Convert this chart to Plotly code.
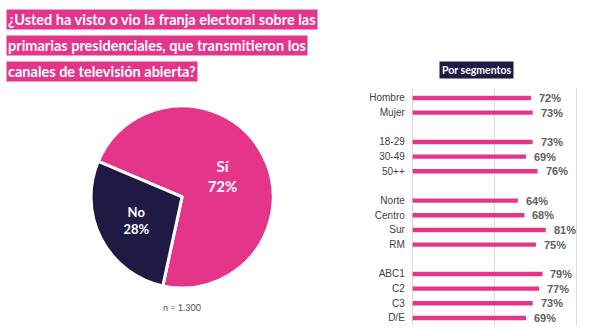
import plotly.graph_objects as go

PINK = "#E5358B"
NAVY = "#1F1A44"

title_lines = [
    "¿Usted ha visto o vio la franja electoral sobre las",
    "primarias presidenciales, que transmitieron los",
    "canales de televisión abierta?",
]

pie_labels = ["Sí", "No"]
pie_values = [72, 28]
pie_text = ["Sí<br>72%", "No<br>28%"]
sample_note = "n = 1.300"

seg_title = "Por segmentos"
groups = [
    (["Hombre", "Mujer"], [72, 73]),
    (["18-29", "30-49", "50++"], [73, 69, 76]),
    (["Norte", "Centro", "Sur", "RM"], [64, 68, 81, 75]),
    (["ABC1", "C2", "C3", "D/E"], [79, 77, 73, 69]),
]

# build positions with a blank slot between groups
cats, vals, pos = [], [], []
p = 0
for gi, (labs, vs) in enumerate(groups):
    for lab, v in zip(labs, vs):
        cats.append(lab)
        vals.append(v)
        pos.append(p)
        p += 1
    p += 1

fig = go.Figure()

fig.add_trace(go.Pie(
    labels=pie_labels, values=pie_values, text=pie_text,
    textinfo="text", textposition="inside", insidetextorientation="horizontal",
    sort=False, direction="clockwise", rotation=-67,
    marker=dict(colors=[PINK, NAVY], line=dict(color="white", width=3)),
    textfont=dict(color="white", size=[15, 13], family="Lato", weight="bold"),
    domain=dict(x=[0.153, 0.459], y=[0.143, 0.685]),
    showlegend=False, hoverinfo="skip",
))

fig.add_trace(go.Bar(
    x=vals, y=pos, orientation="h", width=0.3,
    marker=dict(color=PINK, line=dict(width=0)),
    xaxis="x", yaxis="y", showlegend=False, hoverinfo="skip",
))

annotations = []
for i, line in enumerate(title_lines):
    annotations.append(dict(
        text=f"<b>{line}</b>", xref="paper", yref="paper",
        x=6 / 595, y=1 - (9 + i * 26) / 336, xanchor="left", yanchor="top",
        showarrow=False, bgcolor=PINK, borderpad=1,
        font=dict(color="white", size=14.5, family="Lato"),
    ))

annotations.append(dict(
    text=f"<b>{seg_title}</b>", xref="paper", yref="paper",
    x=476 / 595, y=1 - 70 / 336, xanchor="center", yanchor="middle",
    showarrow=False, bgcolor=NAVY, borderpad=2,
    font=dict(color="white", size=10.5, family="Lato"),
))

annotations.append(dict(
    text=sample_note, xref="paper", yref="paper",
    x=182 / 595, y=1 - 307 / 336, xanchor="center", yanchor="middle",
    showarrow=False, font=dict(color="#555555", size=9, family="Lato"),
))

for v, yp in zip(vals, pos):
    annotations.append(dict(
        text=f"<b>{v}%</b>", x=v, y=yp, xref="x", yref="y",
        xanchor="left", yanchor="middle", xshift=6, showarrow=False,
        font=dict(color="#606060", size=11, family="Liberation Sans"),
    ))

fig.update_layout(
    width=595, height=336,
    margin=dict(l=0, r=0, t=0, b=0),
    paper_bgcolor="white", plot_bgcolor="white",
    xaxis=dict(domain=[407.8 / 595, 581.9 / 595], range=[-3, 103],
               tickvals=[0, 50, 100], showticklabels=False,
               showgrid=True, gridcolor="#DADADA", gridwidth=1,
               zeroline=False, showline=False, fixedrange=True),
    yaxis=dict(domain=[1 - 325.3 / 336, 1 - 87.7 / 336],
               range=[15.5, -0.7], tickvals=pos, ticktext=cats,
               showgrid=False, zeroline=False, showline=False,
               ticks="", ticklabelstandoff=2,
               tickfont=dict(color="#404040", size=10, family="Liberation Sans")),
    bargap=0.7,
    annotations=annotations,
)

fig.write_html("out.html")
